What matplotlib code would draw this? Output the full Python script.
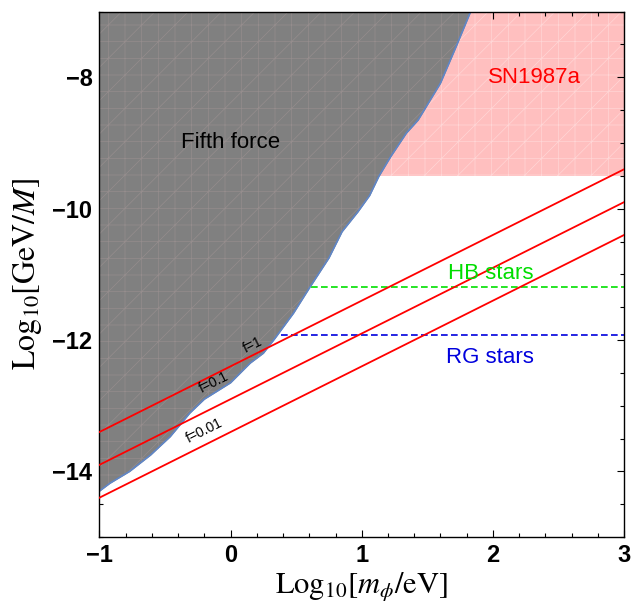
import matplotlib
matplotlib.use("Agg")
import matplotlib.pyplot as plt
import numpy as np

plt.rcParams["mathtext.fontset"] = "stix"
plt.rcParams["hatch.linewidth"] = 0.5

# fifth force exclusion boundary
ff_x = [-1.0, -0.92, -0.77, -0.61, -0.46, -0.31, -0.2, 0.0, 0.15, 0.25, 0.34,
        0.48, 0.6, 0.75, 0.85, 0.97, 1.06, 1.13, 1.22, 1.34, 1.43, 1.6, 1.72, 1.83]
ff_y = [-14.3, -14.18, -14.0, -13.75, -13.47, -13.11, -12.9, -12.65, -12.35, -12.2,
        -11.97, -11.59, -11.21, -10.75, -10.35, -10.05, -9.8, -9.51, -9.21, -8.85,
        -8.65, -8.09, -7.53, -7.0]

# SN1987a box
sn_x = [1.0, 3.0]
sn_low = -9.5
sn_high = -7.0

# stellar bounds
hb_x = [0.0, 3.0]
hb_y = -11.2
rg_x = [0.0, 3.0]
rg_y = -11.92

# f lines: y = x + intercept
f_labels = ["f=1", "f=0.1", "f=0.01"]
f_intercepts = [-12.4, -12.9, -13.4]
f_label_x = [0.17, -0.13, -0.2]
f_label_dy = [0.15, 0.38, 0.22]
line_x = np.array([-1.0, 3.0])

fig = plt.figure(figsize=(6.33, 6.09), dpi=100)
ax = fig.add_axes([0.157, 0.118, 0.829, 0.863])

# pink SN region, under the gray
ax.fill_between(sn_x, sn_low, sn_high, color="#ffbfbf", lw=0, zorder=1)
ax.fill_between(sn_x, sn_low, sn_high, facecolor="none", edgecolor="#ffd6d6",
                hatch="+/", lw=0, zorder=1.1)

# dashed stellar lines
ax.plot(hb_x, [hb_y, hb_y], color="#00e000", lw=1.2, ls=(0, (4, 2)), zorder=1.5)
ax.plot(rg_x, [rg_y, rg_y], color="#0000dd", lw=1.2, ls=(0, (4, 2)), zorder=1.5)

# fifth force
ax.fill_betweenx(ff_y, -1, ff_x, color="#808080", lw=0, zorder=2)
ax.fill_betweenx(ff_y, -1, ff_x, facecolor="none", edgecolor="#958d8d",
                 hatch="+/", lw=0, zorder=2.1)
ax.plot(ff_x, ff_y, color="#5f86c8", lw=1.2, zorder=2.2)

for lab, b, lx, dy in zip(f_labels, f_intercepts, f_label_x, f_label_dy):
    ax.plot(line_x, line_x + b, color="#ff0000", lw=1.3, zorder=3)
    ax.text(lx, lx + b + dy, lab, fontsize=10, rotation=26.6, ha="center",
            va="center", family="Liberation Sans", rotation_mode="anchor", zorder=4)

ax.text(0.0, -9.0, "Fifth force", fontsize=16, family="Liberation Sans",
        ha="center", va="center", zorder=4)
ax.text(2.32, -8.0, "SN1987a", fontsize=16, family="Liberation Sans",
        color="red", ha="center", va="center", zorder=4)
ax.text(1.98, -10.98, "HB stars", fontsize=16, family="Liberation Sans",
        color="#00dd00", ha="center", va="center", zorder=4)
ax.text(1.98, -12.26, "RG stars", fontsize=16, family="Liberation Sans",
        color="#0000dd", ha="center", va="center", zorder=4)

ax.set_xlim(-1, 3)
ax.set_ylim(-15, -7)
ax.set_xticks([-1, 0, 1, 2, 3])
ax.set_yticks([-14, -12, -10, -8])
ax.set_xticks(np.arange(-1, 3.01, 0.2), minor=True)
ax.set_yticks(np.arange(-15, -6.99, 0.5), minor=True)
ax.set_yticklabels(["\u221214", "\u221212", "\u221210", "\u22128"])
ax.set_xticklabels(["\u22121", "0", "1", "2", "3"])
ax.tick_params(which="both", direction="in", top=True, right=True, width=0.8)
ax.tick_params(which="major", length=5, labelsize=17, pad=5)
ax.tick_params(which="minor", length=3)
for t in ax.get_xticklabels() + ax.get_yticklabels():
    t.set_fontfamily("Liberation Sans")
    t.set_fontweight("bold")
for s in ax.spines.values():
    s.set_linewidth(1.0)

ax.set_xlabel(r"$\mathrm{Log}_{10}[m_\phi/\mathrm{eV}]$", fontsize=22, labelpad=2)
ax.set_ylabel(r"$\mathrm{Log}_{10}[\mathrm{GeV}/M]$", fontsize=23, labelpad=6)

fig.savefig("out.png", dpi=100)
